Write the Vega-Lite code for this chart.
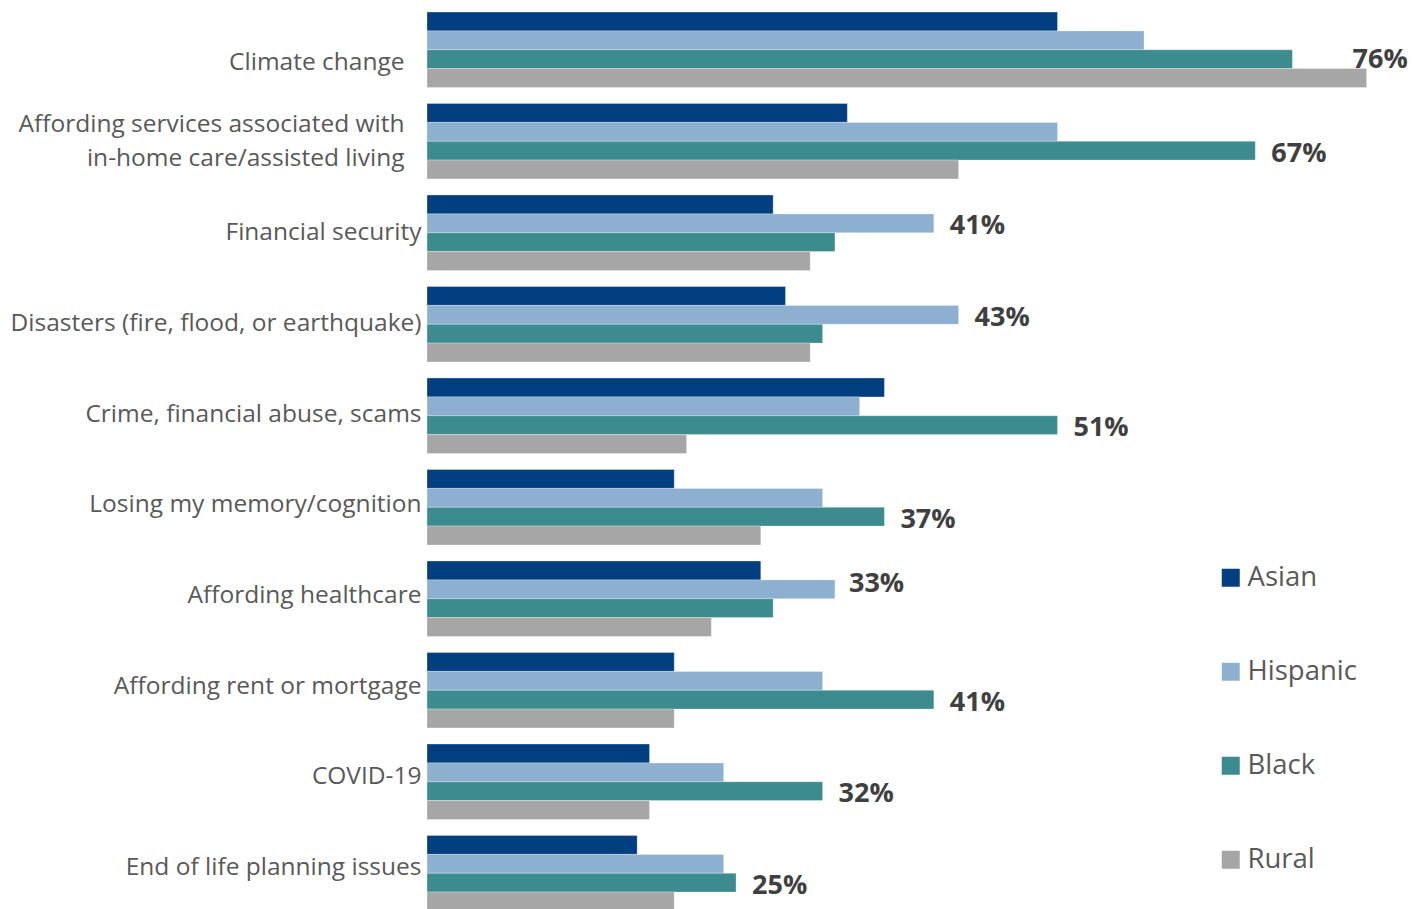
{
  "$schema": "https://vega.github.io/schema/vega-lite/v6.json",
  "autosize": "none",
  "padding": {"left": 427, "top": 4, "right": 0, "bottom": 0},
  "width": 989,
  "height": 915,
  "background": "white",
  "config": {"view": {"stroke": null}, "font": "Open Sans"},
  "datasets": {
    "bars": [
      {"category": "Climate change", "series": "Asian", "value": 51},
      {"category": "Climate change", "series": "Hispanic", "value": 58},
      {"category": "Climate change", "series": "Black", "value": 70},
      {"category": "Climate change", "series": "Rural", "value": 76},
      {"category": "Affording services associated with in-home care/assisted living", "series": "Asian", "value": 34},
      {"category": "Affording services associated with in-home care/assisted living", "series": "Hispanic", "value": 51},
      {"category": "Affording services associated with in-home care/assisted living", "series": "Black", "value": 67},
      {"category": "Affording services associated with in-home care/assisted living", "series": "Rural", "value": 43},
      {"category": "Financial security", "series": "Asian", "value": 28},
      {"category": "Financial security", "series": "Hispanic", "value": 41},
      {"category": "Financial security", "series": "Black", "value": 33},
      {"category": "Financial security", "series": "Rural", "value": 31},
      {"category": "Disasters (fire, flood, or earthquake)", "series": "Asian", "value": 29},
      {"category": "Disasters (fire, flood, or earthquake)", "series": "Hispanic", "value": 43},
      {"category": "Disasters (fire, flood, or earthquake)", "series": "Black", "value": 32},
      {"category": "Disasters (fire, flood, or earthquake)", "series": "Rural", "value": 31},
      {"category": "Crime, financial abuse, scams", "series": "Asian", "value": 37},
      {"category": "Crime, financial abuse, scams", "series": "Hispanic", "value": 35},
      {"category": "Crime, financial abuse, scams", "series": "Black", "value": 51},
      {"category": "Crime, financial abuse, scams", "series": "Rural", "value": 21},
      {"category": "Losing my memory/cognition", "series": "Asian", "value": 20},
      {"category": "Losing my memory/cognition", "series": "Hispanic", "value": 32},
      {"category": "Losing my memory/cognition", "series": "Black", "value": 37},
      {"category": "Losing my memory/cognition", "series": "Rural", "value": 27},
      {"category": "Affording healthcare", "series": "Asian", "value": 27},
      {"category": "Affording healthcare", "series": "Hispanic", "value": 33},
      {"category": "Affording healthcare", "series": "Black", "value": 28},
      {"category": "Affording healthcare", "series": "Rural", "value": 23},
      {"category": "Affording rent or mortgage", "series": "Asian", "value": 20},
      {"category": "Affording rent or mortgage", "series": "Hispanic", "value": 32},
      {"category": "Affording rent or mortgage", "series": "Black", "value": 41},
      {"category": "Affording rent or mortgage", "series": "Rural", "value": 20},
      {"category": "COVID-19", "series": "Asian", "value": 18},
      {"category": "COVID-19", "series": "Hispanic", "value": 24},
      {"category": "COVID-19", "series": "Black", "value": 32},
      {"category": "COVID-19", "series": "Rural", "value": 18},
      {"category": "End of life planning issues", "series": "Asian", "value": 17},
      {"category": "End of life planning issues", "series": "Hispanic", "value": 24},
      {"category": "End of life planning issues", "series": "Black", "value": 25},
      {"category": "End of life planning issues", "series": "Rural", "value": 20}
    ],
    "labels": [
      {"category": "Climate change", "series": "Black", "value": 76},
      {"category": "Affording services associated with in-home care/assisted living", "series": "Black", "value": 67},
      {"category": "Financial security", "series": "Hispanic", "value": 41},
      {"category": "Disasters (fire, flood, or earthquake)", "series": "Hispanic", "value": 43},
      {"category": "Crime, financial abuse, scams", "series": "Black", "value": 51},
      {"category": "Losing my memory/cognition", "series": "Black", "value": 37},
      {"category": "Affording healthcare", "series": "Hispanic", "value": 33},
      {"category": "Affording rent or mortgage", "series": "Black", "value": 41},
      {"category": "COVID-19", "series": "Black", "value": 32},
      {"category": "End of life planning issues", "series": "Black", "value": 25}
    ]
  },
  "encoding": {
    "y": {
      "field": "category",
      "type": "nominal",
      "sort": null,
      "scale": {"paddingInner": 0.175, "paddingOuter": 0.0875},
      "axis": {
        "title": null,
        "domain": false,
        "ticks": false,
        "labelPadding": {
          "condition": {"test": "datum.value == 'Climate change' || datum.value == 'Affording services associated with in-home care/assisted living'", "value": 23},
          "value": 6
        },
        "labelOffset": {
          "condition": [
            {"test": "datum.value == 'Climate change'", "value": 13},
            {"test": "datum.value == 'Affording services associated with in-home care/assisted living'", "value": -16},
            {"test": "datum.value == 'Crime, financial abuse, scams'", "value": -1},
            {"test": "datum.value == 'Losing my memory/cognition'", "value": -2},
            {"test": "datum.value == 'Affording healthcare'", "value": -3},
            {"test": "datum.value == 'Affording rent or mortgage'", "value": -3},
            {"test": "datum.value == 'COVID-19'", "value": -5},
            {"test": "datum.value == 'End of life planning issues'", "value": -5}
          ],
          "value": 0
        },
        "labelFontSize": 24.5,
        "labelColor": "#595959",
        "labelFont": "Open Sans",
        "labelLineHeight": 34,
        "labelLimit": 500,
        "labelExpr": "datum.value == 'Affording services associated with in-home care/assisted living' ? ['Affording services associated with', 'in-home care/assisted living'] : datum.label"
      }
    },
    "yOffset": {
      "field": "series",
      "type": "nominal",
      "sort": ["Asian", "Hispanic", "Black", "Rural"],
      "scale": {"paddingInner": 0, "paddingOuter": 0}
    },
    "x": {
      "field": "value",
      "type": "quantitative",
      "scale": {"domain": [0, 80], "nice": false, "zero": true},
      "axis": null
    }
  },
  "layer": [
    {
      "data": {"name": "bars"},
      "mark": {"type": "bar", "stroke": "white", "strokeWidth": 0.5, "strokeOpacity": 0.6},
      "encoding": {
        "color": {
          "field": "series",
          "type": "nominal",
          "sort": ["Asian", "Hispanic", "Black", "Rural"],
          "scale": {
            "domain": ["Asian", "Hispanic", "Black", "Rural"],
            "range": ["#023F80", "#8EB0D0", "#3C8B8F", "#A6A6A6"]
          },
          "legend": {
            "title": null,
            "orient": "none",
            "legendX": 790,
            "legendY": 560,
            "symbolType": "square",
            "symbolSize": 324,
            "symbolStrokeWidth": 0,
            "labelFontSize": 27.5,
            "labelFont": "Open Sans",
            "labelColor": "#595959",
            "labelOffset": 3,
            "rowPadding": 65
          }
        }
      }
    },
    {
      "data": {"name": "labels"},
      "transform": [
        {"filter": "datum.category != 'Climate change' && datum.category != 'Affording healthcare'"},
        {"calculate": "datum.value + '%'", "as": "label"}
      ],
      "mark": {"type": "text", "align": "left", "baseline": "middle", "dx": 16, "dy": 3, "fontSize": 27, "fontWeight": "bold", "font": "Open Sans", "color": "#404040"},
      "encoding": {"text": {"field": "label"}}
    },
    {
      "data": {"name": "labels"},
      "transform": [
        {"filter": "datum.category == 'Affording healthcare'"},
        {"calculate": "datum.value + '%'", "as": "label"}
      ],
      "mark": {"type": "text", "align": "left", "baseline": "middle", "dx": 14, "dy": -5, "fontSize": 27, "fontWeight": "bold", "font": "Open Sans", "color": "#404040"},
      "encoding": {"text": {"field": "label"}}
    },
    {
      "data": {"name": "labels"},
      "transform": [
        {"filter": "datum.category == 'Climate change'"},
        {"calculate": "datum.value + '%'", "as": "label"}
      ],
      "mark": {"type": "text", "align": "left", "baseline": "middle", "dx": -14, "dy": 1, "fontSize": 27, "fontWeight": "bold", "font": "Open Sans", "color": "#404040"},
      "encoding": {"text": {"field": "label"}}
    }
  ]
}
